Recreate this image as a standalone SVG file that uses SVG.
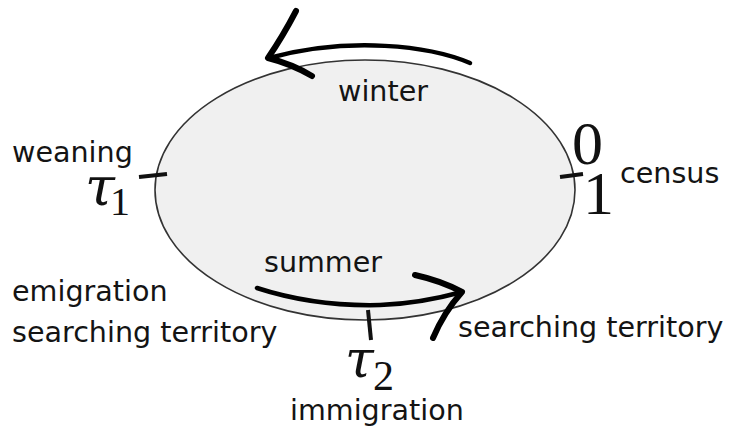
<svg xmlns="http://www.w3.org/2000/svg" width="730" height="437" viewBox="0 0 730 437">
<style>
.lbl{font-family:"DejaVu Sans",sans-serif;font-size:28.6px;fill:#141414}
.math{font-family:"Liberation Serif","DejaVu Serif",serif;fill:#111}
.mi{font-family:"DejaVu Serif",serif;font-style:italic}
.arr{fill:none;stroke:#000;stroke-linecap:round;stroke-linejoin:round}
.tick{fill:none;stroke:#111;stroke-width:4;stroke-linecap:butt}
</style>
<rect width="730" height="437" fill="#fff"/>
<g id="cycle">
<ellipse cx="365" cy="190" rx="210" ry="130" fill="#f0f0f0" stroke="#333" stroke-width="1.6"/>
</g>
<g id="connectors">
<path class="arr" d="M470,63 C430,46 350,36 269,58" stroke-width="4.5"/>
<path class="arr" d="M296,11 Q283,36 268,58 Q292,64 312,76" stroke-width="6"/>
<path class="arr" d="M257,288 C300,302 340,306 380,305 C410,304 440,298 462,292" stroke-width="4.5"/>
<path class="arr" d="M415,275 Q442,281 462,292 Q444,312 433,338" stroke-width="6"/>
</g>
<g id="winter"><text class="lbl" x="338" y="101">winter</text></g>
<g id="summer"><text class="lbl" x="264" y="272">summer</text></g>
<g id="t0">
<path class="tick" d="M560,177 L583,174"/>
<text class="math" x="572" y="164" font-size="62">0</text>
<text class="math" x="583" y="214" font-size="62">1</text>
<text class="lbl" x="620" y="183">census</text>
</g>
<g id="tau1">
<path class="tick" d="M139,177 L167,174"/>
<text class="lbl" x="12" y="162">weaning</text>
<text class="math mi" x="85" y="205" font-size="54">τ</text>
<text class="math" x="110" y="215" font-size="40">1</text>
</g>
<g id="tau2">
<path class="tick" d="M368,310 L371,340"/>
<text class="math mi" x="345" y="377" font-size="52">τ</text>
<text class="math" x="373" y="390" font-size="42">2</text>
<text class="lbl" x="290" y="420">immigration</text>
</g>
<g id="left-labels">
<text class="lbl" x="12" y="301">emigration</text>
<text class="lbl" x="12" y="342">searching territory</text>
</g>
<g id="right-labels">
<text class="lbl" x="458" y="337">searching territory</text>
</g>
</svg>
